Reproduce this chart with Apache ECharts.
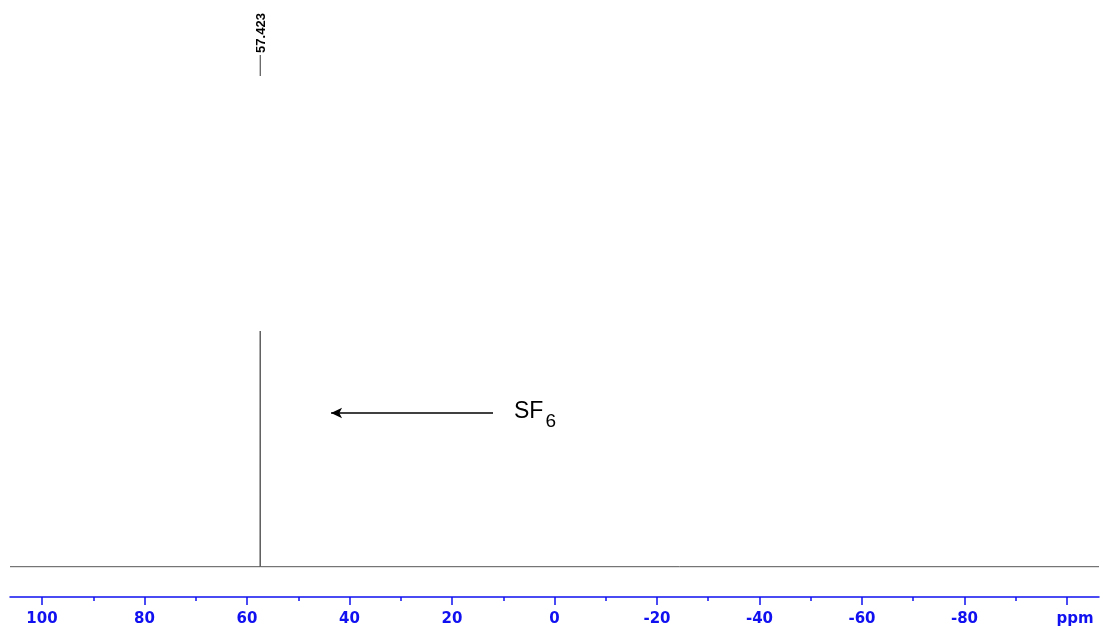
<!DOCTYPE html>
<html>
<head>
<meta charset="utf-8">
<script src="https://cdn.jsdelivr.net/npm/echarts@6/dist/echarts.min.js"></script>
<style>
html,body{margin:0;padding:0;background:#fff;}
#chart{width:1103px;height:630px;}
</style>
</head>
<body>
<div id="chart"></div>
<script>
// Spectrum data (ppm, relative intensity)
const ppm = [106.25, 57.45, 57.423, 57.40, -106.25];
const intensity = [0, 0, 100, 0, 0];
// Axis ticks
const majorTicks = [100, 80, 60, 40, 20, 0, -20, -40, -60, -80, -100];
const minorTicks = [90, 70, 50, 30, 10, -10, -30, -50, -70, -90];
const unitLabel = 'ppm';
// Annotations
const peakLabel = '57.423';
const peakPos = 57.423;
const arrowFrom = [12, 65.2];
const arrowTo = [43.6, 65.2];
const compoundLabel = ['SF', '6'];

const chart = echarts.init(document.getElementById('chart'), null, {renderer: 'canvas'});
const blue = '#1010f0';
const option = {
  animation: false,
  backgroundColor: '#fff',
  grid: {left: 10, right: 4, top: 331, bottom: 33},
  xAxis: [{
    type: 'value', min: -106.25, max: 106.25, inverse: true,
    axisLine: {onZero: false, lineStyle: {color: blue, width: 1.5}},
    axisTick: {customValues: majorTicks, length: 8, inside: false, lineStyle: {color: blue, width: 1.5}},
    axisLabel: {
      customValues: majorTicks, margin: 15, color: blue,
      fontFamily: 'DejaVu Sans, sans-serif', fontWeight: 'bold', fontSize: 15,
      formatter: v => (v === -100 ? '{u|' + unitLabel + '}' : String(v)),
      rich: {u: {color: blue, fontFamily: 'DejaVu Sans, sans-serif', fontWeight: 'bold', fontSize: 15, padding: [0, 0, 0, 16]}}
    },
    splitLine: {show: false}
  }, {
    type: 'value', min: -106.25, max: 106.25, inverse: true, position: 'bottom',
    axisLine: {show: false, onZero: false},
    axisTick: {customValues: minorTicks, length: 4, lineStyle: {color: blue, width: 1.5}},
    axisLabel: {show: false},
    splitLine: {show: false}
  }],
  yAxis: {type: 'value', min: -12.86, max: 100, show: false},
  series: [{
    type: 'line',
    data: ppm.map((p, i) => [p, intensity[i]]),
    showSymbol: false,
    lineStyle: {color: '#555', width: 1},
    markLine: {
      silent: true,
      symbol: ['none', 'arrow'],
      symbolSize: [8, 11],
      label: {show: false},
      lineStyle: {color: '#000', width: 1.6, type: 'solid'},
      data: [[{coord: arrowFrom}, {coord: arrowTo}]]
    }
  }]
};
chart.setOption(option);

const px = chart.convertToPixel({xAxisIndex: 0}, peakPos);
const arrowStart = chart.convertToPixel({xAxisIndex: 0, yAxisIndex: 0}, arrowFrom);
const font = '"Liberation Sans", Arial, sans-serif';
chart.setOption({
  graphic: [
    {type: 'line', shape: {x1: px, y1: 55, x2: px, y2: 76}, style: {stroke: '#333', lineWidth: 1}},
    {type: 'text', x: px + 1, y: 33, rotation: Math.PI / 2,
     style: {text: peakLabel, fill: '#000', font: 'bold 13px ' + font,
             align: 'center', verticalAlign: 'middle'}},
    {type: 'text', x: arrowStart[0] + 21, y: arrowStart[1] - 1.5,
     style: {text: compoundLabel[0], fill: '#000', font: '23px ' + font, align: 'left', verticalAlign: 'middle'}},
    {type: 'text', x: arrowStart[0] + 52.5, y: arrowStart[1] + 8.5,
     style: {text: compoundLabel[1], fill: '#000', font: '19px ' + font, align: 'left', verticalAlign: 'middle'}}
  ]
});
</script>
</body>
</html>
